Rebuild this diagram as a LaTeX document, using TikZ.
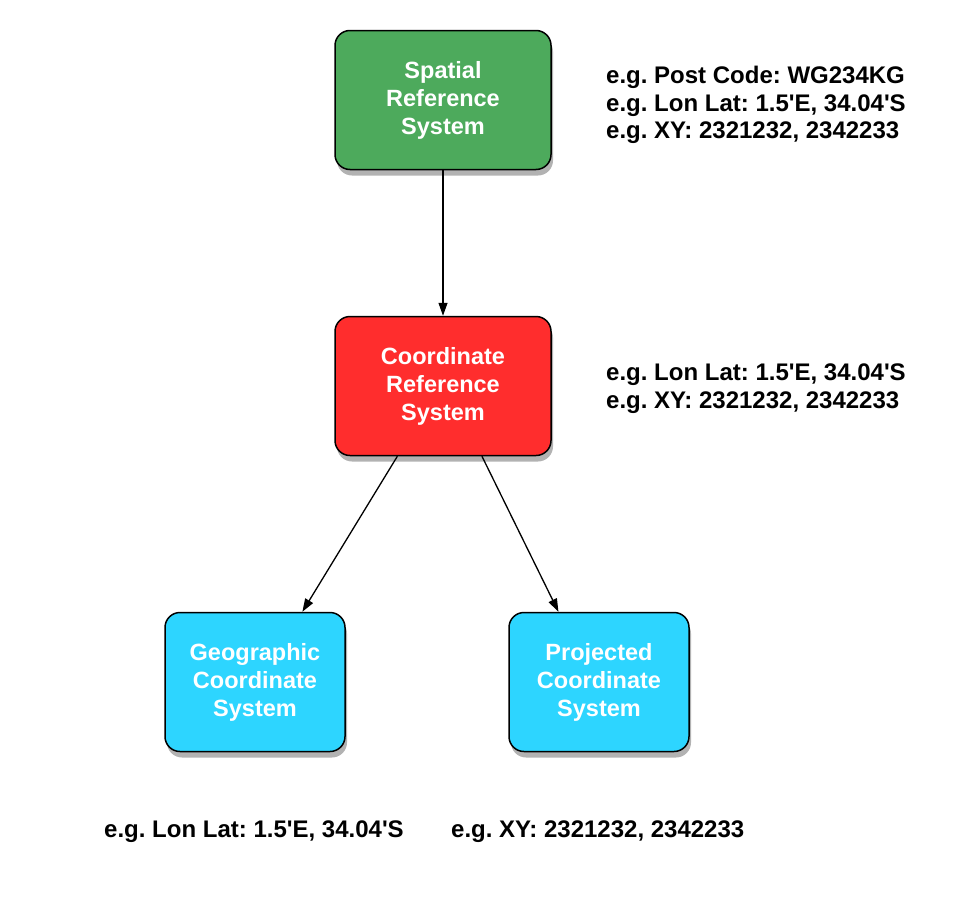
\documentclass[tikz,border=0pt]{standalone}
\usepackage{fontspec}
\setmainfont{Liberation Sans}
\usetikzlibrary{shadows,arrows.meta}
\definecolor{boxgreen}{HTML}{4DAA5C}
\definecolor{boxred}{HTML}{FF2D2D}
\definecolor{boxcyan}{HTML}{2DD5FF}
\newcommand{\q}{\textquotesingle}
\tikzset{
  sysbox/.style={draw=black, line width=1.5pt, rounded corners=15pt,
    minimum width=216pt, minimum height=139pt, align=center, text=white,
    font=\fontsize{23.5}{28}\selectfont\bfseries,
    drop shadow={shadow xshift=2pt, shadow yshift=-6pt, opacity=0.3, fill=black}},
  smallbox/.style={sysbox, minimum width=180pt},
  note/.style={inner sep=0pt, align=left, font=\fontsize{24}{27.5}\selectfont\bfseries\frenchspacing},
  conn/.style={line width=1.3pt, -{Triangle[length=13pt,width=9pt]}}
}
\begin{document}
\begin{tikzpicture}[x=1pt,y=-1pt]
\useasboundingbox (0,0) rectangle (976,918);
\node[sysbox, fill=boxgreen] (srs) at (443,100) {Spatial\\Reference\\System};
\node[sysbox, fill=boxred] (crs) at (443,386) {Coordinate\\Reference\\System};
\node[smallbox, fill=boxcyan] (gcs) at (255,682) {Geographic\\Coordinate\\System};
\node[smallbox, fill=boxcyan] (pcs) at (599,682) {Projected\\Coordinate\\System};
\draw[conn] (srs) -- (crs);
\draw[conn] (crs.-123) -- (gcs.56);
\draw[conn] (crs.-61) -- (pcs.120);
\node[note, anchor=west] (n1) at (606,105) {e.g. Post Code: WG234KG\\e.g. Lon Lat: 1.5\q E, 34.04\q S\\e.g. XY: 2321232, 2342233};
\node[note, anchor=west] (n2) at (606,388.5) {e.g. Lon Lat: 1.5\q E, 34.04\q S\\e.g. XY: 2321232, 2342233};
\node[note, anchor=west] (n3) at (104,832) {e.g. Lon Lat: 1.5\q E, 34.04\q S};
\node[note, anchor=west] (n4) at (451,832) {e.g. XY: 2321232, 2342233};
\end{tikzpicture}
\end{document}
